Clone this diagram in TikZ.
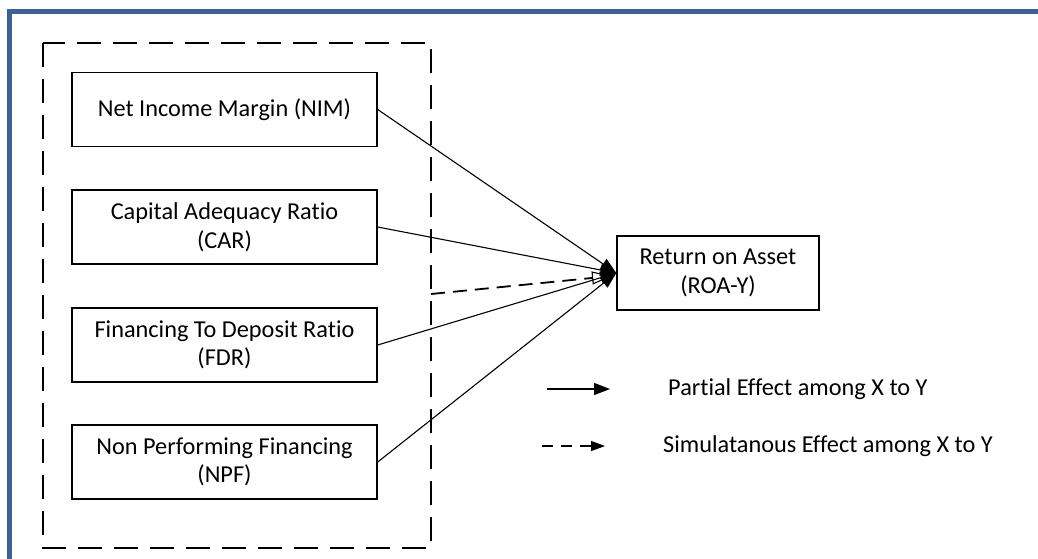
\documentclass[tikz,border=0pt]{standalone}
\usepackage{fontspec}
\setmainfont{Carlito}[Ligatures=NoCommon]
\usetikzlibrary{arrows.meta}
\definecolor{frameblue}{HTML}{3D6291}
\tikzset{
  varbox/.style={draw=black, line width=1.4pt, rectangle, minimum width=305pt,
    minimum height=74pt, inner sep=0pt, align=center,
    font=\fontsize{24.3}{28.5}\selectfont},
  effect/.style={line width=1.1pt, -{Triangle[length=16pt, width=12pt]}},
  simeffect/.style={line width=1.8pt, dash pattern=on 14pt off 8pt,
    -{Triangle[open, length=20pt, width=13pt, line width=1.1pt]}},
  legendtext/.style={anchor=west, inner sep=0pt, font=\fontsize{24.3}{28.5}\selectfont},
}
\begin{document}
\begin{tikzpicture}[x=1pt, y=-1pt]
  \useasboundingbox (0,0) rectangle (1038,558);
  % outer frame (top and left edges)
  \draw[frameblue, line width=5pt] (9.5,560) -- (9.5,11.5) -- (1040,11.5);
  % dashed group around the independent variables
  \draw[line width=1.4pt, dash pattern=on 24pt off 12pt] (43,43) rectangle (431,548);
  % variables
  \node[varbox] (nim) at (224.5,109.5) {Net Income Margin (NIM)};
  \node[varbox] (car) at (224.5,227) {Capital Adequacy Ratio\\(CAR)};
  \node[varbox] (fdr) at (224.5,345) {Financing To Deposit Ratio\\(FDR)};
  \node[varbox] (npf) at (224.5,462) {Non Performing Financing\\(NPF)};
  \node[varbox, minimum width=202pt] (roa) at (718,273) {Return on Asset\\(ROA-Y)};
  % simultaneous effect
  \coordinate (grp) at (431,294);
  \coordinate (simend) at (612,276);
  \draw[simeffect] (grp) -- (simend);
  % partial effects
  \draw[effect] (nim.east) -- (roa.west);
  \draw[effect] (car.east) -- (roa.west);
  \draw[effect] (fdr.east) -- (roa.west);
  \draw[effect] (npf.east) -- (roa.west);
  % legend
  \coordinate (la1) at (547,389);
  \coordinate (la2) at (610,389);
  \coordinate (lb1) at (542,446);
  \coordinate (lb2) at (605,446);
  \draw[effect] (la1) -- (la2);
  \draw[line width=1.1pt, dash pattern=on 11pt off 8pt, -{Triangle[length=14pt, width=10pt]}] (lb1) -- (lb2);
  \node[legendtext] (lta) at (668,389) {Partial Effect among X to Y};
  \node[legendtext] (ltb) at (663,446) {Simulatanous Effect among X to Y};
\end{tikzpicture}
\end{document}
